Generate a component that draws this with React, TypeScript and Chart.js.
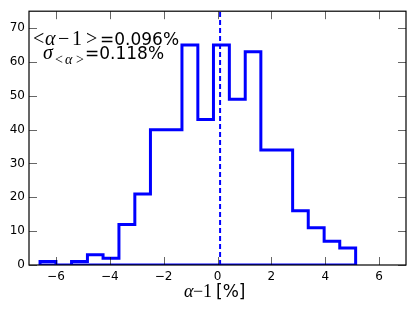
import React, { useEffect, useRef } from "react";
import { Chart, registerables } from "chart.js";

Chart.register(...registerables);

// Histogram bin edges (alpha-1 in %) and counts per bin
const binEdges = [
  -6.59, -6.0, -5.42, -4.83, -4.25, -3.66, -3.07, -2.49, -1.9, -1.32, -0.73,
  -0.15, 0.44, 1.03, 1.61, 2.2, 2.79, 3.37, 3.96, 4.54, 5.13,
];
const counts = [1, 0, 1, 3, 2, 12, 21, 40, 40, 65, 43, 65, 49, 63, 34, 34, 16, 11, 7, 5];

const xTickValues = [-6, -4, -2, 0, 2, 4, 6];
const yTickValues = [0, 10, 20, 30, 40, 50, 60, 70];
const xRange = [-7, 7];
const yRange = [0, 75];

const meanShift = 0.096;
const sigmaMean = 0.118;

const BLUE = "#0000ff";
const SERIF = '"Liberation Serif", "DejaVu Serif", serif';
const SANS = '"DejaVu Sans", sans-serif';

function stepOutline(edges: number[], values: number[]) {
  const pts: { x: number; y: number }[] = [{ x: edges[0], y: 0 }];
  values.forEach((c, i) => {
    pts.push({ x: edges[i], y: c });
    pts.push({ x: edges[i + 1], y: c });
  });
  pts.push({ x: edges[edges.length - 1], y: 0 });
  pts.push({ x: edges[0], y: 0 });
  return pts;
}

const fmtTick = (v: number) => (v < 0 ? "\u2212" + Math.abs(v) : String(v));

const decorPlugin = {
  id: "decor",
  afterDraw(chart: any) {
    const { ctx, chartArea } = chart;
    const { left, right, top, bottom } = chartArea;
    const xs = chart.scales.x;
    const ys = chart.scales.y;
    ctx.save();

    // tick marks (inside, all four sides)
    const tl = 8;
    ctx.strokeStyle = "rgba(0,0,0,0.6)";
    ctx.lineWidth = 1;
    ctx.beginPath();
    xTickValues.forEach((v) => {
      const px = Math.round(xs.getPixelForValue(v)) + 0.5;
      ctx.moveTo(px, bottom);
      ctx.lineTo(px, bottom - tl);
      ctx.moveTo(px, top);
      ctx.lineTo(px, top + tl);
    });
    yTickValues.forEach((v) => {
      const py = Math.round(ys.getPixelForValue(v)) + 0.5;
      ctx.moveTo(left, py);
      ctx.lineTo(left + tl, py);
      ctx.moveTo(right, py);
      ctx.lineTo(right - tl, py);
    });
    ctx.stroke();

    // frame
    ctx.strokeStyle = "#000";
    ctx.lineWidth = 1.2;
    ctx.strokeRect(left, top, right - left, bottom - top);

    // annotation text
    ctx.fillStyle = "#000";
    ctx.textBaseline = "alphabetic";
    ctx.textAlign = "left";
    const b1 = 45;
    ctx.font = `20px ${SERIF}`;
    ctx.fillText("<", 33, b1);
    ctx.font = `italic 20px ${SERIF}`;
    ctx.fillText("\u03b1", 45, b1);
    ctx.font = `20px ${SERIF}`;
    ctx.fillText("\u2212", 58, b1);
    ctx.fillText("1", 72, b1);
    ctx.fillText(">", 86, b1);
    ctx.font = `17px ${SANS}`;
    ctx.fillText(`=${meanShift.toFixed(3)}%`, 100, b1);

    const b2 = 59;
    ctx.font = `italic 20px ${SERIF}`;
    ctx.fillText("\u03c3", 43, b2);
    ctx.font = `14px ${SERIF}`;
    ctx.fillText("<", 55, b2 + 5);
    ctx.font = `italic 14px ${SERIF}`;
    ctx.fillText("\u03b1", 65, b2 + 5);
    ctx.font = `14px ${SERIF}`;
    ctx.fillText(">", 76, b2 + 5);
    ctx.font = `17px ${SANS}`;
    ctx.fillText(`=${sigmaMean.toFixed(3)}%`, 85, b2);

    // x axis title: $\alpha-1$[%]
    const bt = 297;
    ctx.font = `italic 18px ${SERIF}`;
    ctx.fillText("\u03b1", 184, bt);
    ctx.font = `18px ${SERIF}`;
    ctx.fillText("\u2212", 193, bt);
    ctx.fillText("1", 203, bt);
    ctx.font = `17px ${SANS}`;
    ctx.fillText("[%]", 216, bt);

    ctx.restore();
  },
};

export default function App() {
  const ref = useRef<HTMLCanvasElement | null>(null);

  useEffect(() => {
    document.body.style.margin = "0";
    const canvas = ref.current;
    if (!canvas) return;
    const chart = new Chart(canvas, {
      type: "line",
      data: {
        datasets: [
          {
            data: stepOutline(binEdges, counts),
            borderColor: BLUE,
            borderWidth: 3,
            pointRadius: 0,
            fill: false,
            tension: 0,
            borderJoinStyle: "miter",
          },
          {
            data: [
              { x: meanShift, y: yRange[0] },
              { x: meanShift, y: yRange[1] },
            ],
            borderColor: BLUE,
            borderWidth: 2,
            borderDash: [5, 3],
            pointRadius: 0,
            fill: false,
          },
        ],
      },
      options: {
        responsive: false,
        animation: false,
        events: [],
        layout: { padding: { left: 0, top: 10, right: 9, bottom: 0 } },
        plugins: { legend: { display: false }, tooltip: { enabled: false } },
        scales: {
          x: {
            type: "linear",
            min: xRange[0],
            max: xRange[1],
            grid: { display: false, drawTicks: false },
            border: { display: false },
            afterBuildTicks: (s: any) => {
              s.ticks = xTickValues.map((v) => ({ value: v }));
            },
            afterFit: (s: any) => {
              s.height = 47;
            },
            ticks: {
              color: "#000",
              font: { family: SANS, size: 12 },
              padding: 5,
              maxRotation: 0,
              callback: (v: any) => fmtTick(Number(v)),
            },
          },
          y: {
            type: "linear",
            min: yRange[0],
            max: yRange[1],
            grid: { display: false, drawTicks: false },
            border: { display: false },
            afterBuildTicks: (s: any) => {
              s.ticks = yTickValues.map((v) => ({ value: v }));
            },
            afterFit: (s: any) => {
              s.width = 29;
            },
            ticks: {
              color: "#000",
              font: { family: SANS, size: 12 },
              padding: 4,
              callback: (v: any) => fmtTick(Number(v)),
            },
          },
        },
      },
      plugins: [decorPlugin],
    });
    return () => chart.destroy();
  }, []);

  return (
    <div style={{ position: "fixed", left: 0, top: 0, width: 415, height: 312, background: "#fff" }}>
      <canvas ref={ref} width={415} height={312} />
    </div>
  );
}
